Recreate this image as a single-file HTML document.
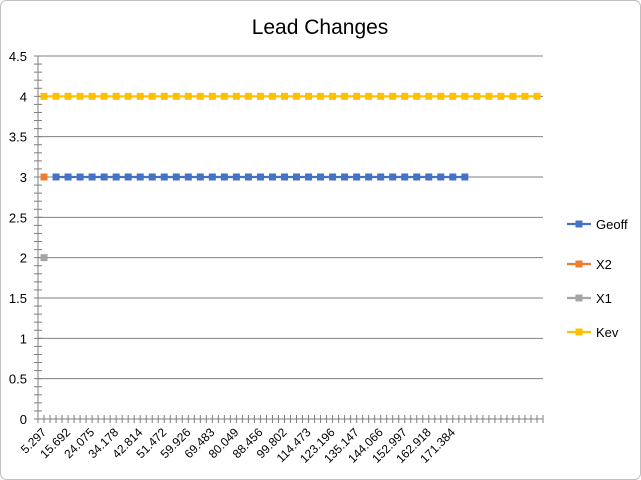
<!DOCTYPE html>
<html><head><meta charset="utf-8"><style>
body{margin:0;background:#fff;font-family:"Liberation Sans",Calibri,sans-serif}
svg{display:block}
</style></head><body>
<svg id="c" width="641" height="480" xmlns="http://www.w3.org/2000/svg">
<rect x="0.5" y="0.5" width="640" height="479" rx="6" fill="#fff" stroke="#bfbfbf"/>
<text x="320" y="34" text-anchor="middle" font-size="21" fill="#000">Lead Changes</text>
<g id="grid"></g><g id="axes"></g><g id="series"></g><g id="legend"></g>
</svg>
<script>
const categories=["5.297","","15.692","","24.075","","34.178","","42.814","","51.472","","59.926","","69.483","","80.049","","88.456","","99.802","","114.473","","123.196","","135.147","","144.066","","152.997","","162.918","","171.384","","","","","","",""];
const kevValues=Array(42).fill(4);
const geoffValues=[null,3,3,3,3,3,3,3,3,3,3,3,3,3,3,3,3,3,3,3,3,3,3,3,3,3,3,3,3,3,3,3,3,3,3,3];
const x2Values=[3];
const x1Values=[2];
const yTicks=["0","0.5","1","1.5","2","2.5","3","3.5","4","4.5"];
const NS="http://www.w3.org/2000/svg";
const L=38,R=543,T=56,B=419,YMAX=4.5;
const step=(R-L)/categories.length;
const xs=i=>L+step*(i+0.5);
const ys=v=>B-(v/YMAX)*(B-T);
function mk(tag,at,parent){const e=document.createElementNS(NS,tag);for(const k in at)e.setAttribute(k,at[k]);document.getElementById(parent).appendChild(e);return e;}
yTicks.forEach((t,i)=>{const v=parseFloat(t),y=ys(v);
 const g=mk('line',{x1:L,x2:R,y1:y,y2:y,stroke:v===0?'#7f7f7f':'#808080','stroke-width':1},'grid');
 
 
 const tx=mk('text',{x:27,y:y+5,'text-anchor':'end','font-size':13,fill:'#000'},'axes');tx.textContent=t;
 
 
});
// y axis + minor ticks
const ya=mk('line',{x1:L,x2:L,y1:T,y2:B,stroke:'#7f7f7f'},'axes');


for(let v=0;v<=YMAX+0.001;v+=0.1){const y=ys(v);mk('line',{x1:L-4,x2:L+4,y1:y,y2:y,stroke:'#7f7f7f'},'axes');}
for(let i=0;i<=categories.length*2;i++){const x=L+i*step/2;mk('line',{x1:x,x2:x,y1:B-4,y2:B+4,stroke:'#7f7f7f'},'axes');}
categories.forEach((c,i)=>{if(!c)return;const x=xs(i)+3,y=B+14;
 const t=mk('text',{x:x,y:y,'text-anchor':'end','font-size':12,fill:'#000',transform:`rotate(-45 ${x} ${y})`},'axes');t.textContent=c;
 
 
});
function series(vals,color,name){
 const pts=[];vals.forEach((v,i)=>{if(v!=null)pts.push([xs(i),ys(v)]);});
 if(pts.length>1){const p=mk('polyline',{points:pts.map(p=>p.join(',')).join(' '),fill:'none',stroke:color,'stroke-width':2.2},'series');
  
  }
 pts.forEach(p=>{const r=mk('rect',{x:p[0]-3.5,y:p[1]-3.5,width:7,height:7,fill:color},'series');
  
  });
}
series(kevValues,'#ffc000','kev');
series(geoffValues,'#4472c4','geoff');
series(x2Values,'#ed7d31','x2');
series(x1Values,'#a5a5a5','x1');
[["Geoff",'#4472c4',224],["X2",'#ed7d31',264],["X1",'#a5a5a5',298],["Kev",'#ffc000',332]].forEach(([n,c,y])=>{
 mk('line',{x1:567,x2:591,y1:y,y2:y,stroke:c,'stroke-width':2.2},'legend');
 mk('rect',{x:575.5,y:y-3.5,width:7,height:7,fill:c},'legend');
 const t=mk('text',{x:596,y:y+5,'font-size':13,fill:'#000'},'legend');t.textContent=n;
 
 
});
</script>
</body></html>
